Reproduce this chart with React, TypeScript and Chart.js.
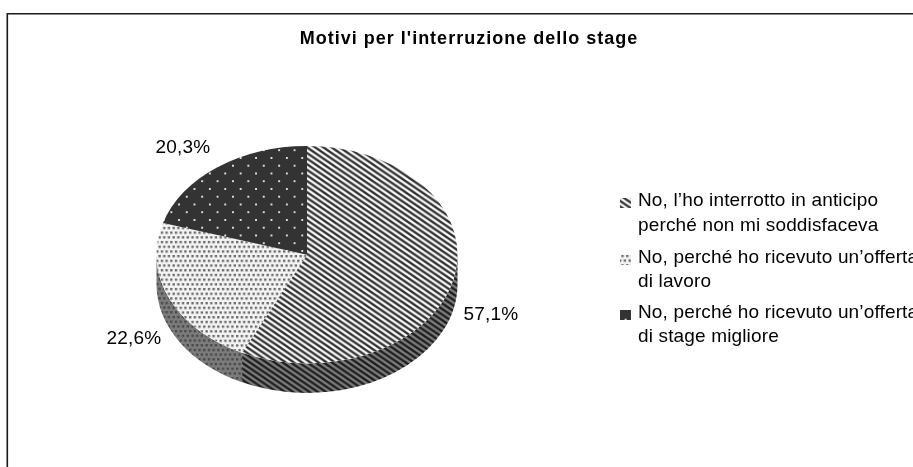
import React, { useEffect, useRef } from "react";
import { Chart, registerables } from "chart.js";

Chart.register(...registerables);

const chartTitle = "Motivi per l'interruzione dello stage";
const categories: string[][] = [
  ["No, l’ho interrotto in anticipo", "perché non mi soddisfaceva"],
  ["No, perché ho ricevuto un’offerta", "di lavoro"],
  ["No, perché ho ricevuto un’offerta", "di stage migliore"],
];
const shares = [57.1, 22.6, 20.3];
const shareLabels = ["57,1%", "22,6%", "20,3%"];

const W = 938;
const H = 467;
const CX = 307;
const CY = 254.7;
const R = 150.5;
const SQUASH = 0.7223;
const DEPTH = 29.5;
const labelAnchors = [
  { x: 184, y: 60 },
  { x: -173, y: 84 },
  { x: -124, y: -107 },
];
const legendX = 638;
const legendLineY = [201, 226, 258, 282, 313, 337];
const swatchY = [203, 260, 315];

type Scale = { sx: number; sy: number };

function stripeTile(w: number, h: number, dark: string, light: string) {
  const c = document.createElement("canvas");
  c.width = w;
  c.height = h;
  const x = c.getContext("2d")!;
  const parse = (s: string) => parseInt(s.slice(1, 3), 16);
  const d = parse(dark);
  const l = parse(light);
  for (let i = 0; i < w; i++) {
    for (let j = 0; j < h; j++) {
      let n = 0;
      for (let a = 0; a < 4; a++) {
        for (let b = 0; b < 4; b++) {
          const p = ((i + (a + 0.5) / 4) / w - (j + (b + 0.5) / 4) / h + 2) % 1;
          if (p < 0.5) n++;
        }
      }
      const v = Math.round(d + ((l - d) * n) / 16);
      x.fillStyle = `rgb(${v},${v},${v})`;
      x.fillRect(i, j, 1, 1);
    }
  }
  return c;
}

function dotTile(size: number, dot: number, bg: string, fg: string) {
  const c = document.createElement("canvas");
  c.width = size;
  c.height = size;
  const x = c.getContext("2d")!;
  x.fillStyle = bg;
  x.fillRect(0, 0, size, size);
  x.fillStyle = fg;
  x.fillRect(1, 1, dot, dot);
  x.fillRect(1 + size / 2, 1 + size / 2, dot, dot);
  return c;
}

function stippleTile(bg: string, fg: string) {
  const c = document.createElement("canvas");
  c.width = 10;
  c.height = 10;
  const x = c.getContext("2d")!;
  x.fillStyle = bg;
  x.fillRect(0, 0, 10, 10);
  x.fillStyle = fg;
  [[1, 1], [6, 1], [3.5, 6], [8.5, 6]].forEach(([a, b]) => {
    x.fillRect(a, b, 2.5, 2.5);
    if (a + 2.5 > 10) x.fillRect(a - 10, b, 2.5, 2.5);
  });
  return c;
}

function makePattern(ctx: CanvasRenderingContext2D, tile: HTMLCanvasElement, s: Scale, yFix: number) {
  const p = ctx.createPattern(tile, "repeat")!;
  p.setTransform(new DOMMatrix().scale(s.sx, s.sy * yFix));
  return p;
}

export default function App() {
  const ref = useRef<HTMLCanvasElement>(null);

  useEffect(() => {
    const canvas = ref.current!;
    const ctx = canvas.getContext("2d")!;

    const stripeScale = { sx: 8.2 / 8, sy: 5.6 / 6 };
    const dotScale = { sx: 15.4 / 16, sy: 15.5 / 16 };
    const stippleScale = { sx: 4.7 / 5, sy: 4.7 / 5 };

    const topTiles = [
      [stripeTile(8, 6, "#303030", "#fcfcfc"), stripeScale],
      [stippleTile("#f4f4f4", "#6a6a6a"), stippleScale],
      [dotTile(16, 2, "#333333", "#e0e0e0"), dotScale],
    ] as [HTMLCanvasElement, Scale][];
    const sideTiles = [
      [stripeTile(8, 6, "#1c1c1c", "#808080"), stripeScale],
      [stippleTile("#7c7c7c", "#484848"), stippleScale],
      [dotTile(16, 2, "#222222", "#808080"), dotScale],
    ] as [HTMLCanvasElement, Scale][];

    const topFill = topTiles.map(([t, s]) => makePattern(ctx, t, s, 1 / SQUASH));
    const flatFill = topTiles.map(([t, s]) => makePattern(ctx, t, s, 1));
    const sideFill = sideTiles.map(([t, s]) => makePattern(ctx, t, s, 1));

    const piePlugin = {
      id: "pie3d",
      afterLayout(chart: any) {
        chart.titleBlock.left = 0;
        chart.titleBlock.right = W;
      },
      beforeDraw(chart: any) {
        const c = chart.ctx;
        c.save();
        c.strokeStyle = "#1a1a1a";
        c.lineWidth = 1.6;
        c.beginPath();
        c.moveTo(7.3, H + 5);
        c.lineTo(7.3, 13.8);
        c.lineTo(W + 5, 13.8);
        c.stroke();
        c.restore();
        (c as any).letterSpacing = "1px";
      },
      beforeDatasetsDraw(chart: any) {
        const c = chart.ctx;
        (c as any).letterSpacing = "0px";
        const arcs = chart.getDatasetMeta(0).data;
        const x0 = arcs[0].x;
        const y0 = arcs[0].y;
        c.save();
        arcs.forEach((a: any, i: number) => {
          const from = Math.max(a.startAngle, 0);
          const to = Math.min(a.endAngle, Math.PI);
          if (to <= from) return;
          const rx = a.outerRadius;
          const ry = rx * SQUASH;
          c.beginPath();
          c.ellipse(x0, y0, rx, ry, 0, from, to);
          c.ellipse(x0, y0 + DEPTH, rx, ry, 0, to, from, true);
          c.closePath();
          c.fillStyle = sideFill[i];
          c.fill();
        });
        c.restore();
        c.save();
        c.translate(x0, y0);
        c.scale(1, SQUASH);
        c.translate(-x0, -y0);
      },
      afterDatasetsDraw(chart: any) {
        const c = chart.ctx;
        c.restore();
        const arcs = chart.getDatasetMeta(0).data;
        c.save();
        c.fillStyle = "#000";
        c.font = '19px "Liberation Sans"';
        (c as any).letterSpacing = "0.2px";
        c.textAlign = "center";
        c.textBaseline = "middle";
        arcs.forEach((a: any, i: number) => {
          c.fillText(shareLabels[i], a.x + labelAnchors[i].x, a.y + labelAnchors[i].y);
        });
        c.textAlign = "left";
        (c as any).letterSpacing = "0.15px";
        let line = 0;
        chart.data.labels.forEach((lab: string[], i: number) => {
          c.fillStyle = flatFill[i];
          c.fillRect(legendX - 18, swatchY[i] - 5, 11, 10);
          c.fillStyle = "#000";
          lab.forEach((t: string) => {
            c.fillText(t, legendX, legendLineY[line]);
            line++;
          });
        });
        c.restore();
      },
    };

    const chart = new Chart(canvas, {
      type: "pie",
      data: {
        labels: categories as any,
        datasets: [
          {
            data: shares,
            backgroundColor: topFill as any,
            borderWidth: 0,
          },
        ],
      },
      options: {
        responsive: false,
        animation: false,
        layout: { padding: { left: CX - R, right: W - CX - R, top: 0, bottom: H - CY - R } },
        plugins: {
          legend: { display: false },
          tooltip: { enabled: false },
          title: {
            display: true,
            text: chartTitle,
            color: "#000",
            font: { family: '"Liberation Sans"', size: 18, weight: "bold", lineHeight: 1.2 },
            padding: { top: 28.5, bottom: CY - R - 28.5 - 21.6 },
          },
        },
      },
      plugins: [piePlugin as any],
    });
    return () => chart.destroy();
  }, []);

  return (
    <div style={{ position: "fixed", left: 0, top: 0, width: 913, height: 467, overflow: "hidden", background: "#fff" }}>
      <canvas ref={ref} width={W} height={H} style={{ display: "block" }} />
    </div>
  );
}
